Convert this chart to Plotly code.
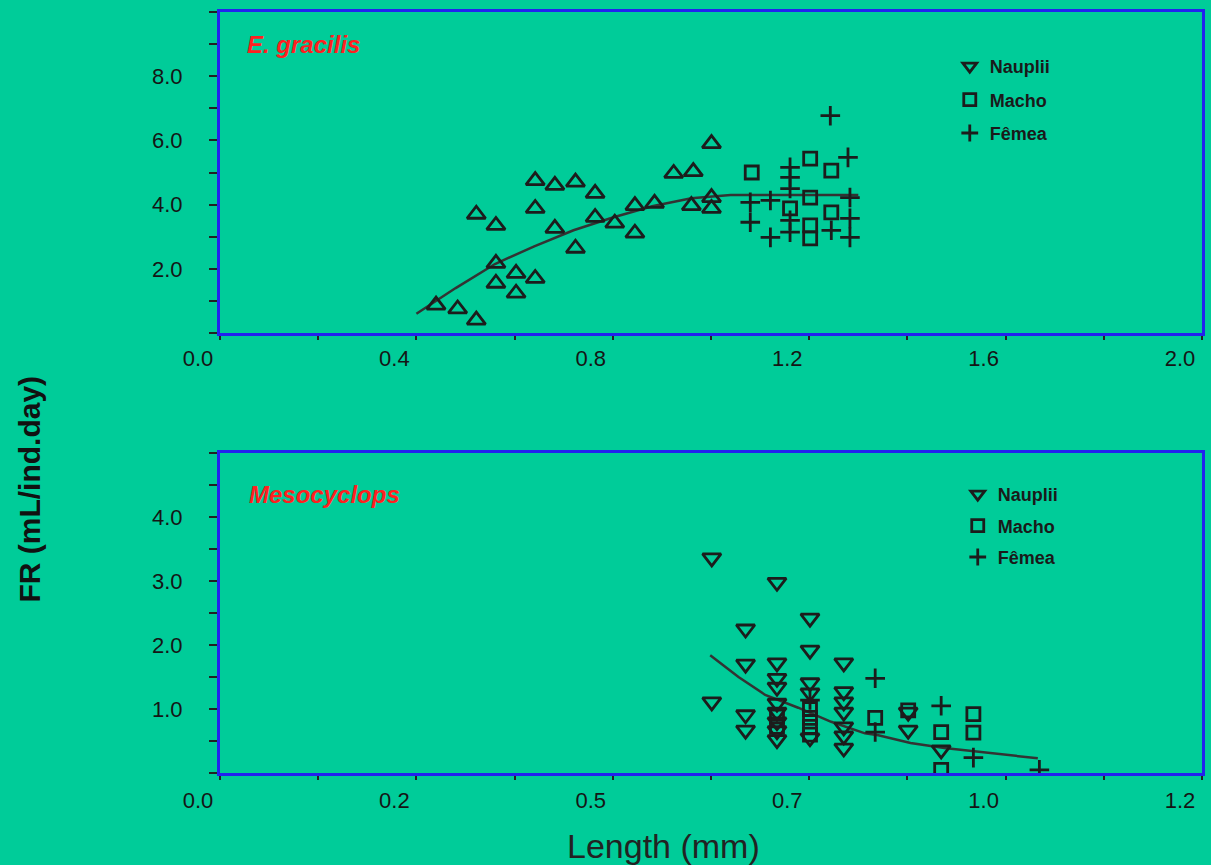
import plotly.graph_objects as go

# ---------------- data: E. gracilis (top panel) ----------------
eg_naup_x = [0.44, 0.484, 0.522, 0.562, 0.562, 0.603, 0.603, 0.642, 0.522, 0.562, 0.642, 0.682,
             0.724, 0.764, 0.642, 0.682, 0.724, 0.764, 0.804, 0.845, 0.845, 0.885, 0.924, 0.964,
             1.001, 0.960, 1.001, 1.001]
eg_naup_y = [0.87, 0.75, 0.40, 2.17, 1.55, 1.86, 1.24, 1.70, 3.70, 3.35, 4.75, 4.60,
             4.70, 4.35, 3.88, 3.26, 2.64, 3.60, 3.42, 3.11, 3.97, 4.04, 4.97, 5.03,
             5.90, 3.97, 4.22, 3.88]
eg_macho_x = [1.083, 1.202, 1.245, 1.161, 1.202, 1.245, 1.202, 1.202]
eg_macho_y = [5.00, 5.43, 5.06, 3.88, 4.22, 3.76, 3.35, 2.95]
eg_femea_x = [1.243, 1.279, 1.161, 1.161, 1.161, 1.080, 1.121, 1.080, 1.161, 1.121, 1.161,
              1.245, 1.283, 1.283, 1.283]
eg_femea_y = [6.77, 5.47, 5.16, 4.85, 4.50, 4.07, 4.13, 3.45, 3.51, 2.98, 3.14,
              3.20, 3.57, 2.98, 4.22]
eg_fit_x = [0.40, 0.48, 0.56, 0.64, 0.72, 0.80, 0.88, 0.96, 1.04, 1.12, 1.20, 1.30]
eg_fit_y = [0.60, 1.40, 2.15, 2.70, 3.20, 3.60, 3.95, 4.20, 4.30, 4.30, 4.30, 4.30]

# ---------------- data: Mesocyclops (bottom panel) ----------------
me_naup_x = [0.626, 0.626, 0.669, 0.669, 0.669, 0.669, 0.709, 0.709, 0.709, 0.709, 0.709,
             0.709, 0.709, 0.709, 0.709, 0.751, 0.751, 0.751, 0.751, 0.751, 0.794, 0.794,
             0.794, 0.794, 0.794, 0.794, 0.794, 0.876, 0.876, 0.918]
me_naup_y = [3.36, 1.11, 2.25, 1.70, 0.91, 0.67, 2.98, 1.72, 1.48, 1.34, 1.09,
             0.95, 0.80, 0.66, 0.52, 2.42, 1.92, 1.41, 1.25, 0.55, 1.72, 1.27,
             1.11, 0.95, 0.72, 0.58, 0.39, 0.95, 0.67, 0.36]
me_macho_x = [0.709, 0.709, 0.751, 0.751, 0.751, 0.751, 0.834, 0.876, 0.918, 0.918, 0.959, 0.959]
me_macho_y = [0.88, 0.72, 1.00, 0.86, 0.72, 0.60, 0.86, 0.98, 0.64, 0.05, 0.92, 0.63]
me_femea_x = [0.834, 0.834, 0.918, 0.959, 1.043, 0.751]
me_femea_y = [1.48, 0.64, 1.05, 0.24, 0.05, 1.14]
me_fit_x = [0.624, 0.660, 0.694, 0.736, 0.778, 0.821, 0.838, 0.879, 0.922, 0.968, 1.011, 1.041]
me_fit_y = [1.84, 1.50, 1.22, 1.02, 0.80, 0.62, 0.59, 0.47, 0.39, 0.33, 0.28, 0.23]

series_names = ["Nauplii", "Macho", "Fêmea"]
top_xticks = [0.0, 0.4, 0.8, 1.2, 1.6, 2.0]
top_xtext = ["0.0", "0.4", "0.8", "1.2", "1.6", "2.0"]
top_yticks = [2, 4, 6, 8]
top_ytext = ["2.0", "4.0", "6.0", "8.0"]
bot_xticks = [0.0, 0.25, 0.5, 0.75, 1.0, 1.25]
bot_xtext = ["0.0", "0.2", "0.5", "0.7", "1.0", "1.2"]
bot_yticks = [1, 2, 3, 4]
bot_ytext = ["1.0", "2.0", "3.0", "4.0"]

BG = "#00CC99"
DARK = "#1c1c1c"

fig = go.Figure()


def mk(symbol, size=13):
    return dict(symbol=symbol, color=DARK, size=size, line=dict(color=DARK, width=2.8))


LEG_SYMS = ["triangle-down-open", "square-open", "cross-thin"]

# top panel data
fig.add_trace(go.Scatter(x=eg_fit_x, y=eg_fit_y, mode="lines", line=dict(color="#333333", width=2.5),
                         xaxis="x", yaxis="y", showlegend=False, hoverinfo="skip"))
fig.add_trace(go.Scatter(x=eg_naup_x, y=eg_naup_y, mode="markers", marker=mk("triangle-up-open", 16),
                         xaxis="x", yaxis="y", showlegend=False))
fig.add_trace(go.Scatter(x=eg_macho_x, y=eg_macho_y, mode="markers", marker=mk("square-open", 13),
                         xaxis="x", yaxis="y", showlegend=False))
fig.add_trace(go.Scatter(x=eg_femea_x, y=eg_femea_y, mode="markers", marker=mk("cross-thin", 14),
                         xaxis="x", yaxis="y", showlegend=False))
for i, (nm, sym) in enumerate(zip(series_names, LEG_SYMS)):
    fig.add_trace(go.Scatter(x=[None], y=[None], mode="markers", name=nm, marker=mk(sym, 12),
                             xaxis="x", yaxis="y", legend="legend", legendgroup="t%d" % i))

# bottom panel data
fig.add_trace(go.Scatter(x=me_fit_x, y=me_fit_y, mode="lines", line=dict(color="#333333", width=2.5),
                         xaxis="x2", yaxis="y2", showlegend=False, hoverinfo="skip"))
fig.add_trace(go.Scatter(x=me_naup_x, y=me_naup_y, mode="markers", marker=mk("triangle-down-open", 16),
                         xaxis="x2", yaxis="y2", showlegend=False))
fig.add_trace(go.Scatter(x=me_macho_x, y=me_macho_y, mode="markers", marker=mk("square-open", 13),
                         xaxis="x2", yaxis="y2", showlegend=False))
fig.add_trace(go.Scatter(x=me_femea_x, y=me_femea_y, mode="markers", marker=mk("cross-thin", 14),
                         xaxis="x2", yaxis="y2", showlegend=False))
for i, (nm, sym) in enumerate(zip(series_names, LEG_SYMS)):
    fig.add_trace(go.Scatter(x=[None], y=[None], mode="markers", name=nm, marker=mk(sym, 12),
                             xaxis="x2", yaxis="y2", legend="legend2", legendgroup="b%d" % i))

TICKFONT = dict(family="Liberation Sans", size=22, color="#151515")
AXLINE = dict(showline=True, linecolor="#2222EE", linewidth=3, mirror=True, showgrid=False,
              zeroline=False, tickcolor="#222222", tickwidth=2, tickfont=TICKFONT)

L, R, T, B = 220, 6, 12, 92
PW, PH = 1211 - L - R, 865 - T - B


def py(p):
    return (865 - B - p) / PH


def px(p):
    return (p - L) / PW


fig.update_layout(
    width=1211, height=865,
    margin=dict(l=L, r=R, t=T, b=B),
    paper_bgcolor=BG, plot_bgcolor=BG,
    xaxis=dict(domain=[0, 1], anchor="y", range=[0, 2.0], tickmode="array", tickvals=top_xticks,
               ticktext=top_xtext, ticks="outside", ticklen=4, ticklabelshift=-22, ticklabelstandoff=0,
               minor=dict(tickmode="linear", tick0=0, dtick=0.2, ticks="outside", ticklen=4,
                          tickcolor="#222222", tickwidth=2), **AXLINE),
    yaxis=dict(domain=[py(333), 1], anchor="x", range=[0, 10], tickmode="array", tickvals=top_yticks,
               ticktext=top_ytext, ticks="outside", ticklen=8, ticklabelstandoff=22,
               minor=dict(tickmode="linear", tick0=0, dtick=1, ticks="outside", ticklen=8,
                          tickcolor="#222222", tickwidth=2), **AXLINE),
    xaxis2=dict(domain=[0, 1], anchor="y2", range=[0, 1.25], tickmode="array", tickvals=bot_xticks,
                ticktext=bot_xtext, ticks="outside", ticklen=4, ticklabelshift=-22, ticklabelstandoff=2,
                minor=dict(tickmode="linear", tick0=0, dtick=0.125, ticks="outside", ticklen=4,
                           tickcolor="#222222", tickwidth=2), **AXLINE),
    yaxis2=dict(domain=[0, py(453)], anchor="x2", range=[0, 5], tickmode="array", tickvals=bot_yticks,
                ticktext=bot_ytext, ticks="outside", ticklen=8, ticklabelstandoff=22,
                minor=dict(tickmode="linear", tick0=0, dtick=0.5, ticks="outside", ticklen=8,
                           tickcolor="#222222", tickwidth=2), **AXLINE),
    legend=dict(x=px(952), y=py(48), xanchor="left", yanchor="top", bgcolor="rgba(0,0,0,0)",
                font=dict(family="Liberation Sans", size=18, color="#1a1a1a", weight="bold"),
                traceorder="grouped", tracegroupgap=7, itemwidth=30),
    legend2=dict(x=px(960), y=py(476), xanchor="left", yanchor="top", bgcolor="rgba(0,0,0,0)",
                 font=dict(family="Liberation Sans", size=18, color="#1a1a1a", weight="bold"),
                 traceorder="grouped", tracegroupgap=5, itemwidth=30),
    showlegend=True,
    annotations=[
        dict(text="<b><i>E. gracilis</i></b>", x=px(245), y=py(44), xref="paper", yref="paper",
             xanchor="left", yanchor="middle", showarrow=False,
             font=dict(family="Liberation Sans", size=24, color="#FF2020")),
        dict(text="<b><i>Mesocyclops</i></b>", x=px(247), y=py(494), xref="paper", yref="paper",
             xanchor="left", yanchor="middle", showarrow=False,
             font=dict(family="Liberation Sans", size=24, color="#FF2020")),
        dict(text="Length (mm)", x=px(665), y=py(846), xref="paper", yref="paper",
             xanchor="center", yanchor="middle", showarrow=False,
             font=dict(family="Liberation Sans", size=34, color="#222222")),
        dict(text="<b>FR (mL/ind.day)</b>", x=px(28), y=py(489), xref="paper", yref="paper",
             xanchor="center", yanchor="middle", showarrow=False, textangle=-90,
             font=dict(family="Liberation Sans", size=30, color="#111111")),
    ],
)

fig.write_html("out.html", config={"displayModeBar": False},
               post_script="document.body.style.margin='0';document.body.style.overflow='hidden';")
